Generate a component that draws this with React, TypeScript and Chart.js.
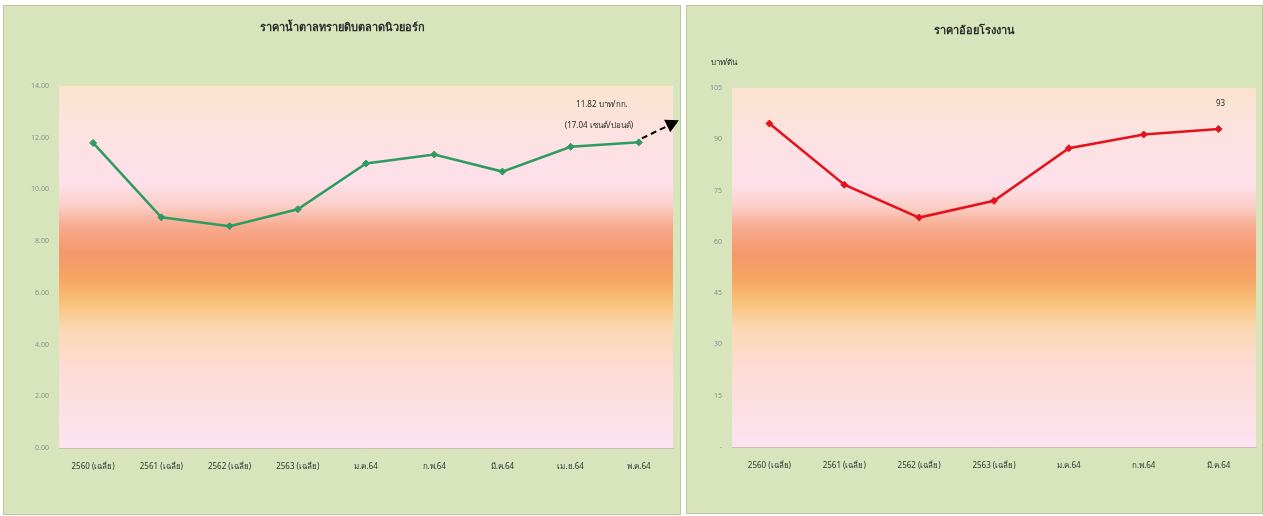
import React, { useEffect, useRef } from "react";
import { Chart, registerables } from "chart.js";

Chart.register(...registerables);

// ---------- data ----------
const leftTitle = "ราคาน้ำตาลทรายดิบตลาดนิวยอร์ก";
const leftCategories = [
  "2560 (เฉลี่ย)",
  "2561 (เฉลี่ย)",
  "2562 (เฉลี่ย)",
  "2563 (เฉลี่ย)",
  "ม.ค.64",
  "ก.พ.64",
  "มี.ค.64",
  "เม.ย.64",
  "พ.ค.64",
];
const leftValues = [11.8, 8.92, 8.58, 9.23, 11.0, 11.35, 10.69, 11.65, 11.82];
const leftNoteLines = ["11.82 บาท/กก.", "(17.04 เซนต์/ปอนด์)"];

const rightTitle = "ราคาอ้อยโรงงาน";
const rightUnit = "บาท/ตัน";
const rightCategories = [
  "2560 (เฉลี่ย)",
  "2561 (เฉลี่ย)",
  "2562 (เฉลี่ย)",
  "2563 (เฉลี่ย)",
  "ม.ค.64",
  "ก.พ.64",
  "มี.ค.64",
];
const rightValues = [94.6, 76.7, 67.1, 72.0, 87.4, 91.4, 93.0];
const rightNote = "93";

const FONT = "'Noto Sans', 'DejaVu Sans', sans-serif";

function plotBackground(ctx: CanvasRenderingContext2D, area: any) {
  const g = ctx.createLinearGradient(0, area.top, 0, area.bottom);
  g.addColorStop(0, "#fbe4cd");
  g.addColorStop(0.14, "#fde2e2");
  g.addColorStop(0.27, "#fde0ea");
  g.addColorStop(0.33, "#fbcfc8");
  g.addColorStop(0.39, "#f7a98c");
  g.addColorStop(0.46, "#f5986c");
  g.addColorStop(0.53, "#f6a462");
  g.addColorStop(0.6, "#f9c27a");
  g.addColorStop(0.67, "#fbd8b4");
  g.addColorStop(0.78, "#fcdcd4");
  g.addColorStop(1, "#fde3f2");
  ctx.save();
  ctx.fillStyle = g;
  ctx.fillRect(area.left, area.top, area.right - area.left, area.bottom - area.top);
  ctx.restore();
}

function useLineChart(
  ref: React.RefObject<HTMLCanvasElement>,
  cfg: {
    title: string;
    titleY: number;
    labels: string[];
    values: number[];
    color: string;
    max: number;
    step: number;
    tickFmt: (v: number) => string;
    yWidth: number;
    padTop: number;
    padRight: number;
    extra: (chart: any) => void;
  }
) {
  useEffect(() => {
    if (!ref.current) return;
    const decor = {
      id: "decor",
      beforeDraw(chart: any) {
        plotBackground(chart.ctx, chart.chartArea);
      },
      afterDraw(chart: any) {
        const ctx = chart.ctx;
        ctx.save();
        ctx.fillStyle = "#2b2b2b";
        ctx.font = `bold 11px ${FONT}`;
        ctx.textAlign = "center";
        ctx.textBaseline = "middle";
        ctx.fillText(cfg.title, chart.width / 2, cfg.titleY);
        ctx.restore();
        cfg.extra(chart);
      },
    };
    const chart = new Chart(ref.current, {
      type: "line",
      data: {
        labels: cfg.labels,
        datasets: [
          {
            data: cfg.values,
            borderColor: cfg.color,
            backgroundColor: cfg.color,
            borderWidth: 2.5,
            pointStyle: "rectRot",
            pointRadius: 3.5,
            pointBorderWidth: 1,
            tension: 0,
          },
        ],
      },
      options: {
        animation: false,
        responsive: false,
        maintainAspectRatio: false,
        layout: { padding: { top: cfg.padTop, right: cfg.padRight, left: 0, bottom: 0 } },
        plugins: { legend: { display: false }, tooltip: { enabled: false } },
        scales: {
          x: {
            offset: true,
            grid: { display: false, drawTicks: false },
            border: { display: true, color: "#c9c1b3", width: 1 },
            ticks: {
              color: "#333333",
              font: { size: 8, family: FONT },
              padding: 14,
              maxRotation: 0,
              autoSkip: false,
            },
            afterFit: (s: any) => {
              s.height = 66;
            },
          },
          y: {
            min: 0,
            max: cfg.max,
            grid: { display: false, drawTicks: false },
            border: { display: false },
            ticks: {
              stepSize: cfg.step,
              color: "#8c8c8c",
              font: { size: 7, family: FONT },
              padding: 10,
              callback: (v: any) => cfg.tickFmt(Number(v)),
            },
            afterFit: (s: any) => {
              s.width = cfg.yWidth;
            },
          },
        },
      },
      plugins: [decor],
    });
    return () => chart.destroy();
  }, []);
}

function LeftChart() {
  const ref = useRef<HTMLCanvasElement>(null);
  useLineChart(ref, {
    title: leftTitle,
    titleY: 22,
    labels: leftCategories,
    values: leftValues,
    color: "#2e9b62",
    max: 14,
    step: 2,
    tickFmt: (v) => v.toFixed(2),
    yWidth: 55,
    padTop: 80,
    padRight: 7,
    extra: (chart) => {
      const ctx = chart.ctx;
      const meta = chart.getDatasetMeta(0);
      const p = meta.data[meta.data.length - 1];
      ctx.save();
      ctx.fillStyle = "#2b2b2b";
      ctx.font = `8px ${FONT}`;
      ctx.textAlign = "center";
      ctx.textBaseline = "middle";
      ctx.fillText(leftNoteLines[0], p.x - 37, p.y - 38);
      ctx.fillText(leftNoteLines[1], p.x - 40, p.y - 17);
      // dashed arrow
      const sx = p.x + 3;
      const sy = p.y - 4;
      const tx = p.x + 40;
      const ty = p.y - 22;
      ctx.strokeStyle = "#000";
      ctx.lineWidth = 2;
      ctx.setLineDash([6, 4]);
      ctx.beginPath();
      ctx.moveTo(sx, sy);
      ctx.lineTo(tx - 8, ty + 4);
      ctx.stroke();
      ctx.setLineDash([]);
      const ang = Math.atan2(ty - sy, tx - sx);
      ctx.fillStyle = "#000";
      ctx.beginPath();
      ctx.moveTo(tx, ty);
      ctx.lineTo(tx - 13 * Math.cos(ang) + 7 * Math.sin(ang), ty - 13 * Math.sin(ang) - 7 * Math.cos(ang));
      ctx.lineTo(tx - 13 * Math.cos(ang) - 7 * Math.sin(ang), ty - 13 * Math.sin(ang) + 7 * Math.cos(ang));
      ctx.closePath();
      ctx.fill();
      ctx.restore();
    },
  });
  return <canvas ref={ref} width={676} height={508} style={{ display: "block" }} />;
}

function RightChart() {
  const ref = useRef<HTMLCanvasElement>(null);
  useLineChart(ref, {
    title: rightTitle,
    titleY: 25,
    labels: rightCategories,
    values: rightValues,
    color: "#e3121b",
    max: 105,
    step: 15,
    tickFmt: (v) => (v === 0 ? "-" : String(v)),
    yWidth: 45,
    padTop: 82,
    padRight: 6,
    extra: (chart) => {
      const ctx = chart.ctx;
      const meta = chart.getDatasetMeta(0);
      const p = meta.data[meta.data.length - 1];
      ctx.save();
      ctx.fillStyle = "#2b2b2b";
      ctx.font = `8px ${FONT}`;
      ctx.textAlign = "center";
      ctx.textBaseline = "middle";
      ctx.fillText(rightNote, p.x + 2, p.y - 25);
      ctx.fillText(rightUnit, 37, 57);
      ctx.restore();
    },
  });
  return <canvas ref={ref} width={575} height={507} style={{ display: "block" }} />;
}

export default function App() {
  const panel: React.CSSProperties = {
    position: "absolute",
    background: "#d8e4bc",
    border: "1px solid #b9c79a",
    boxSizing: "content-box",
  };
  return (
    <div style={{ position: "fixed", left: 0, top: 0, width: 1263, height: 516, background: "#ffffff" }}>
      <div style={{ ...panel, left: 3, top: 5, width: 676, height: 508 }}>
        <LeftChart />
      </div>
      <div style={{ ...panel, left: 686, top: 5, width: 575, height: 507 }}>
        <RightChart />
      </div>
    </div>
  );
}
